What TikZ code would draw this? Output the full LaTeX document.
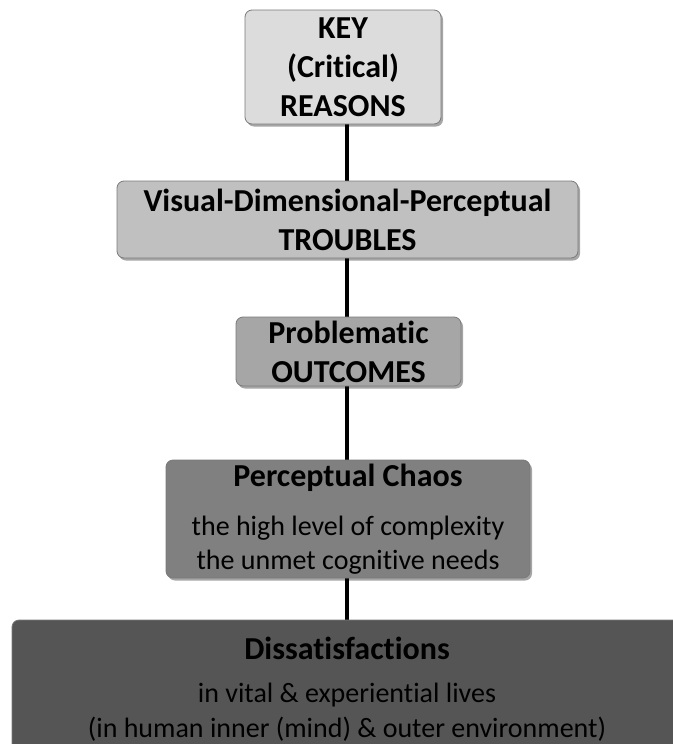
\documentclass[tikz,border=0pt]{standalone}
\usepackage{fontspec}
\setmainfont{Carlito}[Ligatures=NoCommon]
\usetikzlibrary{shadows,backgrounds}
\definecolor{fillA}{HTML}{DCDCDC}
\definecolor{fillB}{HTML}{C0C0C0}
\definecolor{fillC}{HTML}{A6A6A6}
\definecolor{fillD}{HTML}{808080}
\definecolor{fillE}{HTML}{555555}
\definecolor{edgegray}{HTML}{7A7A7A}
\tikzset{
  level/.style={draw=edgegray, line width=0.8pt, rounded corners=7pt,
    align=center, inner sep=0pt, text=black,
    drop shadow={shadow xshift=2pt, shadow yshift=-2.5pt, opacity=0.35, fill=black}},
  link/.style={line width=3.8pt, black},
  head/.style={font=\bfseries\fontsize{32}{39}\selectfont},
  body/.style={font=\fontsize{28}{34.5}\selectfont, align=center, inner sep=0pt}
}
\begin{document}
\begin{tikzpicture}[x=1pt, y=-1pt]
\useasboundingbox (0,0) rectangle (672,744);
\coordinate (axis) at (347,0);
% the chain of levels, from reasons down to dissatisfactions
\node[level, fill=fillA, minimum width=196pt, minimum height=114pt, head] (key) at (343,67)
  {KEY\\(Critical)\\REASONS};
\node[level, fill=fillB, minimum width=461pt, minimum height=77pt, head] (trouble) at (347.5,219.5)
  {Visual-Dimensional-Perceptual\\TROUBLES};
\node[level, fill=fillC, minimum width=225pt, minimum height=69pt, head] (outcome) at (348.5,351.5)
  {Problematic\\OUTCOMES};
\node[level, fill=fillD, minimum width=364pt, minimum height=118pt] (chaos) at (348,519) {};
\node[head, align=center, inner sep=0pt] (chaoshead) at (348,478) {Perceptual Chaos};
\node[body] (chaosbody) at (348,545)
  {the high level of complexity\\the unmet cognitive needs};
\node[level, fill=fillE, minimum width=690pt, minimum height=160pt] (dissat) at (357,700) {};
\node[head, align=center, inner sep=0pt] (dissathead) at (347,648) {Dissatisfactions};
\node[body] (dissatbody) at (347,712)
  {in vital \& experiential lives\\(in human inner (mind) \& outer environment)};
% connectors behind the boxes
\begin{scope}[on background layer]
\draw[link] (key.south -| axis) -- (trouble.north -| axis);
\draw[link] (trouble.south -| axis) -- (outcome.north -| axis);
\draw[link] (outcome.south -| axis) -- (chaos.north -| axis);
\draw[link] (chaos.south -| axis) -- (dissat.north -| axis);
\end{scope}
\end{tikzpicture}
\end{document}
